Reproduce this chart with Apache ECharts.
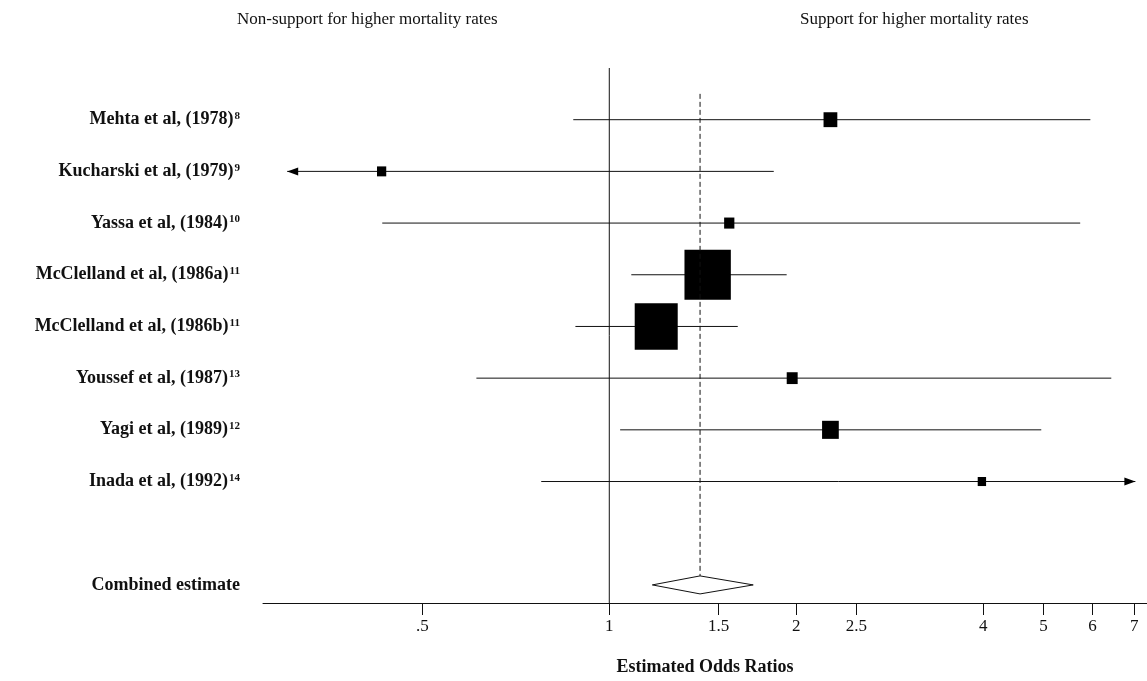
<!DOCTYPE html>
<html>
<head>
<meta charset="utf-8">
<title>Estimated Odds Ratios</title>
<script src="https://cdn.jsdelivr.net/npm/echarts@6/dist/echarts.min.js"></script>
<style>
  html, body { margin: 0; padding: 0; background: #fff; }
  #chart { width: 1147px; height: 681px; }
</style>
</head>
<body>
<div id="chart"></div>
<script>
// studies, top to bottom
var studies = ['Mehta et al, (1978)', 'Kucharski et al, (1979)', 'Yassa et al, (1984)', 'McClelland et al, (1986a)',
  'McClelland et al, (1986b)', 'Youssef et al, (1987)', 'Yagi et al, (1989)', 'Inada et al, (1992)'];
var refNo = ['8', '9', '10', '11', '11', '13', '12', '14'];
var oddsRatio = [2.27, 0.43, 1.56, 1.44, 1.19, 1.97, 2.27, 3.98];
var lowerCI = [0.875, 0.303, 0.431, 1.085, 0.882, 0.611, 1.041, 0.777];
var upperCI = [5.95, 1.84, 5.73, 1.93, 1.61, 6.43, 4.96, 7.03];
var weights = [1.9, 0.85, 1.05, 21.5, 18.5, 1.2, 2.8, 0.7];   // relative weight -> box size
var offScale = [0, -1, 0, 0, 0, 0, 0, 1];                    // -1 arrow left, 1 arrow right
// pooled estimate: lower, estimate, upper
var combined = [1.173, 1.40, 1.705];
var combinedRow = 9;
var xTicks = [0.5, 1, 1.5, 2, 2.5, 4, 5, 6, 7];
var xMin = 0.277, xMax = 7.34;
var yMin = -1, yMax = 9.35;

var serif = '"Liberation Serif", "Times New Roman", serif';
var chart = echarts.init(document.getElementById('chart'));

var studyData = studies.map(function (s, i) {
  return [i, lowerCI[i], oddsRatio[i], upperCI[i], weights[i], offScale[i]];
});

var option = {
  backgroundColor: '#fff',
  animation: false,
  title: [
    { text: 'Non-support for higher mortality rates', left: 232, top: 6,
      textStyle: { fontFamily: serif, fontSize: 17, fontWeight: 'normal', color: '#111' } },
    { text: 'Support for higher mortality rates', left: 795, top: 6,
      textStyle: { fontFamily: serif, fontSize: 17, fontWeight: 'normal', color: '#111' } }
  ],
  grid: { left: 263, right: 0, top: 68, bottom: 77 },
  xAxis: {
    type: 'log',
    logBase: 2,
    min: xMin,
    max: xMax,
    name: 'Estimated Odds Ratios',
    nameLocation: 'middle',
    nameGap: 55,
    nameTextStyle: { fontFamily: serif, fontSize: 18, fontWeight: 'bold', color: '#111' },
    splitLine: { show: false },
    axisLine: { onZero: false, lineStyle: { color: '#111', width: 1 } },
    axisTick: { customValues: xTicks, length: 12, lineStyle: { color: '#111' } },
    axisLabel: {
      customValues: xTicks,
      margin: 15,
      fontFamily: serif,
      fontSize: 17,
      color: '#111',
      formatter: function (v) { return v === 0.5 ? '.5' : String(v); }
    }
  },
  yAxis: {
    type: 'value',
    inverse: true,
    min: yMin,
    max: yMax,
    axisLine: { show: false },
    axisTick: { show: false },
    splitLine: { show: false },
    axisLabel: {
      customValues: [0, 1, 2, 3, 4, 5, 6, 7, combinedRow],
      margin: 23,
      formatter: function (v) {
        if (v === combinedRow) return '{n|Combined estimate}';
        return '{n|' + studies[v] + '}{s|' + refNo[v] + '}';
      },
      rich: {
        n: { fontFamily: serif, fontSize: 18, fontWeight: 'bold', color: '#111' },
        s: { fontFamily: serif, fontSize: 11, fontWeight: 'bold', color: '#111', verticalAlign: 'top', padding: [0, 0, 5, 1] }
      }
    }
  },
  series: [
    {
      // line of no effect
      type: 'line',
      symbol: 'none',
      silent: true,
      lineStyle: { color: '#111', width: 1 },
      data: [[1, yMin], [1, yMax]]
    },
    {
      type: 'custom',
      silent: true,
      encode: { x: [1, 2, 3], y: 0 },
      data: studyData,
      renderItem: function (params, api) {
        var row = api.value(0);
        var lo = api.coord([api.value(1), row]);
        var pt = api.coord([api.value(2), row]);
        var hi = api.coord([api.value(3), row]);
        var w = 10 * Math.sqrt(api.value(4));
        var h = w * 1.08;
        var kids = [
          { type: 'line', shape: { x1: lo[0], y1: lo[1], x2: hi[0], y2: hi[1] },
            style: { stroke: '#111', lineWidth: 1 } },
          { type: 'rect', shape: { x: pt[0] - w / 2, y: pt[1] - h / 2, width: w, height: h },
            style: { fill: '#000' } }
        ];
        var dir = api.value(5);
        if (dir < 0) {
          kids.push({ type: 'polygon', shape: { points: [[lo[0], lo[1]], [lo[0] + 11, lo[1] - 4], [lo[0] + 11, lo[1] + 4]] },
            style: { fill: '#000' } });
        } else if (dir > 0) {
          kids.push({ type: 'polygon', shape: { points: [[hi[0], hi[1]], [hi[0] - 11, hi[1] - 4], [hi[0] - 11, hi[1] + 4]] },
            style: { fill: '#000' } });
        }
        return { type: 'group', children: kids };
      }
    },
    {
      type: 'custom',
      silent: true,
      encode: { x: [1, 2, 3], y: 0 },
      data: [[combinedRow, combined[0], combined[1], combined[2]]],
      renderItem: function (params, api) {
        var row = api.value(0);
        var lo = api.coord([api.value(1), row]);
        var pt = api.coord([api.value(2), row]);
        var hi = api.coord([api.value(3), row]);
        var top = api.coord([api.value(2), -0.5]);
        var hh = 9;
        return {
          type: 'group',
          children: [
            { type: 'line', shape: { x1: top[0], y1: top[1], x2: pt[0], y2: pt[1] - hh },
              style: { stroke: '#111', lineWidth: 1, lineDash: [5, 3] } },
            { type: 'polygon',
              shape: { points: [[lo[0], lo[1]], [pt[0], pt[1] - hh], [hi[0], hi[1]], [pt[0], pt[1] + hh]] },
              style: { fill: '#fff', stroke: '#111', lineWidth: 1 } }
          ]
        };
      }
    }
  ]
};

chart.setOption(option);
</script>
</body>
</html>
